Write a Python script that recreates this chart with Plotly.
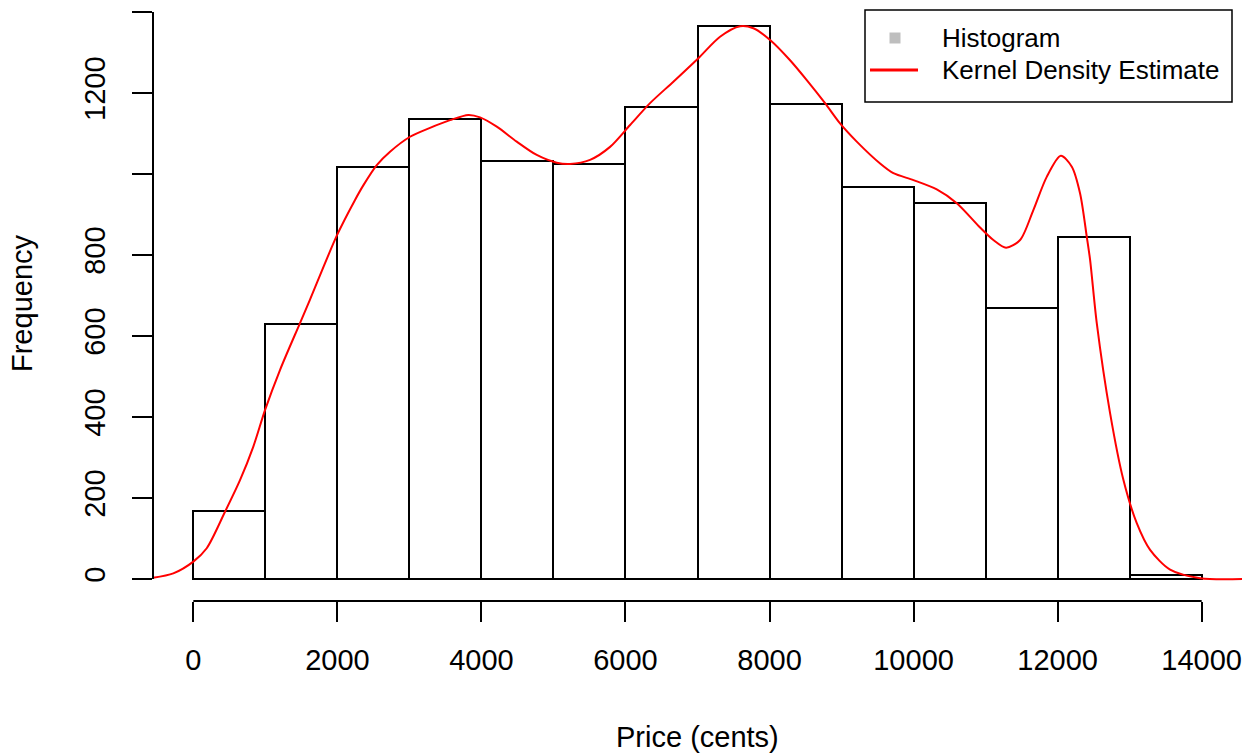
import plotly.graph_objects as go

# ---- data ----
bin_left = [0, 1000, 2000, 3000, 4000, 5000, 6000, 7000, 8000, 9000, 10000, 11000, 12000, 13000]
bin_width = 1000
counts = [168, 630, 1018, 1136, 1031, 1025, 1166, 1365, 1173, 969, 928, 669, 845, 10]

kde_x = [-560, -278, 0, 186, 440, 648, 833, 995, 1203, 1481, 1620, 1995, 2245, 2360, 2547,
         2731, 3009, 3286, 3564, 3818, 3981, 4213, 4490, 4768, 5046, 5230, 5508, 5786,
         6064, 6341, 6665, 7012, 7313, 7591, 7776, 8008, 8285, 8517, 8771, 8979, 9211,
         9535, 9720, 9998, 10322, 10600, 10923, 11108, 11284, 11479, 11663, 11849, 12044,
         12197, 12312, 12405, 12451, 12544, 12729, 12913, 13099, 13284, 13562, 13979, 14560]
kde_y = [3, 14, 43, 76, 166, 244, 327, 417, 516, 632, 690, 849, 936, 972, 1022,
         1055, 1092, 1114, 1133, 1146, 1140, 1117, 1080, 1047, 1028, 1025, 1035, 1067,
         1121, 1175, 1228, 1286, 1339, 1365, 1360, 1331, 1281, 1232, 1175, 1125, 1080,
         1026, 1002, 985, 962, 928, 868, 837, 818, 837, 911, 993, 1045,
         1018, 952, 845, 788, 631, 409, 245, 138, 72, 23, 2, 0]

x_ticks = [0, 2000, 4000, 6000, 8000, 10000, 12000, 14000]
x_tick_text = ["0", "2000", "4000", "6000", "8000", "10000", "12000", "14000"]
y_ticks = [0, 200, 400, 600, 800, 1000, 1200, 1400]
y_tick_text = ["0", "200", "400", "600", "800", "", "1200", ""]

# ---- layout geometry (pixels) ----
W, H = 1254, 753
L, R, T, B = 153, 12, 4, 152
PW, PH = W - L - R, H - T - B
FONT = "Liberation Sans, Arial, Helvetica, sans-serif"


def px(xp):
    return (xp - L) / PW


def py(yp):
    return (H - B - yp) / PH


centers = [b + bin_width / 2 for b in bin_left]

fig = go.Figure()
fig.add_trace(go.Bar(
    x=centers, y=counts, width=[bin_width] * len(counts),
    marker=dict(color="white", line=dict(color="black", width=2)),
    showlegend=False, hoverinfo="skip"))
fig.add_trace(go.Scatter(
    x=kde_x, y=kde_y, mode="lines", line=dict(color="#FF0000", width=2, shape="spline", smoothing=0.8),
    showlegend=False, hoverinfo="skip"))

shapes = [
    # R-style axis lines spanning the tick range
    dict(type="line", xref="x", yref="paper", x0=x_ticks[0], x1=x_ticks[-1], y0=0, y1=0,
         line=dict(color="black", width=2)),
    dict(type="line", xref="paper", yref="y", x0=0, x1=0, y0=y_ticks[0], y1=y_ticks[-1],
         line=dict(color="black", width=2)),
    # legend box
    dict(type="rect", xref="paper", yref="paper", x0=px(865), x1=px(1232), y0=py(102), y1=py(10),
         line=dict(color="black", width=1.5), fillcolor="white", layer="above"),
    dict(type="rect", xref="paper", yref="paper", x0=px(889.5), x1=px(900.5), y0=py(43.5), y1=py(32.5),
         line=dict(width=0), fillcolor="#BEBEBE", layer="above"),
    dict(type="line", xref="paper", yref="paper", x0=px(870), x1=px(918), y0=py(70), y1=py(70),
         line=dict(color="#FF0000", width=3), layer="above"),
]

annotations = [
    dict(text="Price (cents)", xref="paper", yref="paper", x=0.5, y=py(737),
         xanchor="center", yanchor="middle", showarrow=False, font=dict(size=29)),
    dict(text="Frequency", xref="paper", yref="paper", x=px(22), y=py(303),
         xanchor="center", yanchor="middle", showarrow=False, textangle=-90, font=dict(size=29)),
    dict(text="Histogram", xref="paper", yref="paper", x=px(940), y=py(38),
         xanchor="left", yanchor="middle", showarrow=False, font=dict(size=26)),
    dict(text="Kernel Density Estimate", xref="paper", yref="paper", x=px(940), y=py(70),
         xanchor="left", yanchor="middle", showarrow=False, font=dict(size=26)),
]

fig.update_layout(
    width=W, height=H,
    margin=dict(l=L, r=R, t=T, b=B, pad=0),
    paper_bgcolor="white", plot_bgcolor="white",
    font=dict(family=FONT, color="black", size=29),
    bargap=0,
    shapes=shapes, annotations=annotations,
    xaxis=dict(range=[-560, 14560], showgrid=False, zeroline=False, showline=False,
               tickmode="array", tickvals=x_ticks, ticktext=x_tick_text,
               ticks="outside", ticklen=20, tickwidth=2, tickcolor="black",
               ticklabelstandoff=13, tickfont=dict(size=29)),
    yaxis=dict(range=[-54.3, 1419.8], showgrid=False, zeroline=False, showline=False,
               tickmode="array", tickvals=y_ticks, ticktext=y_tick_text,
               ticks="outside", ticklen=20, tickwidth=2, tickcolor="black",
               ticklabelstandoff=15, tickangle=-90, tickfont=dict(size=29)),
)

fig.write_html("out.html", config={"displayModeBar": False},
               post_script="document.body.style.margin='0';document.body.style.padding='0';")
